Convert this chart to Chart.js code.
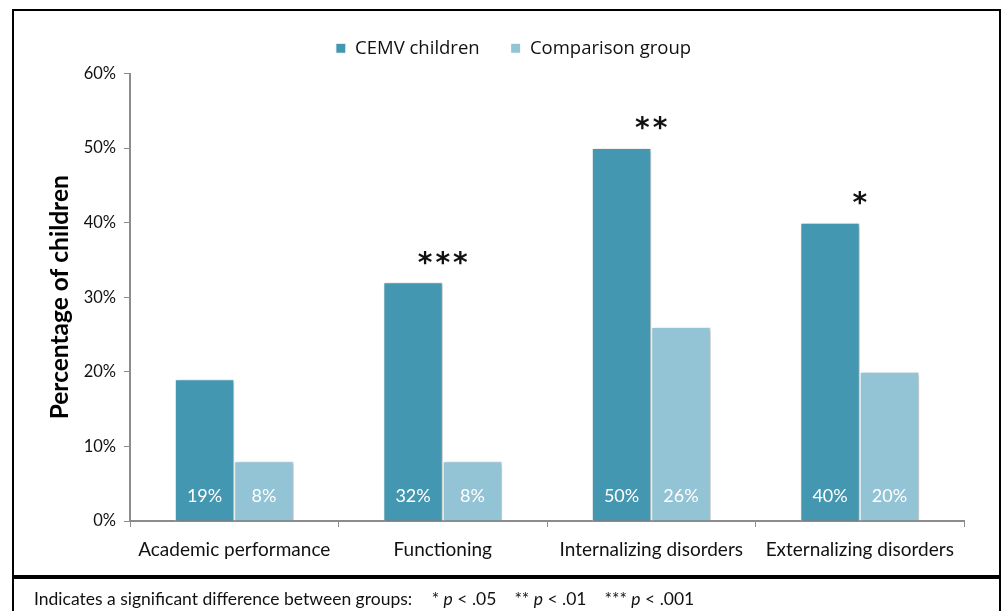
<!DOCTYPE html>
<html>
<head>
<meta charset="utf-8">
<script src="https://cdn.jsdelivr.net/npm/chart.js@4/dist/chart.umd.min.js"></script>
<style>
  html, body { margin: 0; padding: 0; background: #fff; }
  #wrap { position: relative; width: 1005px; height: 611px; overflow: hidden; }
  #chart { position: absolute; left: 0; top: 0; }
  .box { position: absolute; border: 2px solid #000; pointer-events: none; }
  #note {
    position: absolute; left: 34px; top: 588px;
    font-family: Lato, sans-serif; font-size: 17.5px; color: #111;
  }
  #note span { margin-left: 18px; }
  #note span:first-child { margin-left: 15px; }
</style>
</head>
<body>
<div id="wrap">
  <canvas id="chart" width="1005" height="611"></canvas>
  <div class="box" style="left:12px; top:9px; width:985px; height:566px;"></div>
  <div class="box" style="left:12px; top:575px; width:985px; height:60px;"></div>
  <div id="note">Indicates a significant difference between groups: <span>* <i>p</i> &lt; .05</span><span>** <i>p</i> &lt; .01</span><span>*** <i>p</i> &lt; .001</span></div>
</div>
<script>
// Datos del gráfico
const categories = ['Academic performance', 'Functioning', 'Internalizing disorders', 'Externalizing disorders'];
const cemvValues = [19, 32, 50, 40];
const comparisonValues = [8, 8, 26, 20];
const significance = ['', '***', '**', '*'];
const yTicks = [0, 10, 20, 30, 40, 50, 60];

const darkColor = '#4397B0';
const lightColor = '#93C4D5';
const axisColor = '#8C8C8C';

// Sombra suave detrás de las barras
const barShadow = {
    id: 'barShadow',
    beforeDatasetsDraw(chart) {
        const ctx = chart.ctx;
        ctx.save();
        ctx.shadowColor = 'rgba(0, 0, 0, 0.28)';
        ctx.shadowBlur = 4;
        ctx.shadowOffsetX = 2;
        ctx.shadowOffsetY = 1;
    },
    afterDatasetsDraw(chart) {
        chart.ctx.restore();
    }
};

// Etiquetas de valores y asteriscos
const barLabels = {
    id: 'barLabels',
    afterDatasetsDraw(chart) {
        const ctx = chart.ctx;
        const y = chart.scales.y;
        const x = chart.scales.x;
        ctx.save();
        ctx.font = '18px Lato, sans-serif';
        ctx.fillStyle = '#fff';
        ctx.textAlign = 'center';
        ctx.textBaseline = 'middle';
        chart.data.datasets.forEach((ds, i) => {
            chart.getDatasetMeta(i).data.forEach((bar, j) => {
                ctx.fillText(ds.data[j] + '%', bar.x, y.getPixelForValue(0) - 25);
            });
        });
        ctx.font = 'bold 28px "DejaVu Sans", sans-serif';
        ctx.fillStyle = '#111';
        ctx.letterSpacing = '3px';
        significance.forEach((s, j) => {
            if (!s) return;
            ctx.fillText(s, x.getPixelForValue(j) + 1.5, y.getPixelForValue(cemvValues[j]) - 18);
        });
        ctx.restore();
    }
};

// Ajustar la posición de la leyenda
const legendShift = {
    id: 'legendShift',
    afterLayout(chart) {
        chart.legend.left += 25;
        chart.legend.right += 25;
        chart.legend.top -= 6;
        chart.legend.bottom -= 6;
    }
};

const ctx = document.getElementById('chart').getContext('2d');
new Chart(ctx, {
    type: 'bar',
    data: {
        labels: categories,
        datasets: [{
            label: 'CEMV children',
            data: cemvValues,
            backgroundColor: darkColor,
            borderColor: '#fff',
            borderWidth: 1
        }, {
            label: 'Comparison group',
            data: comparisonValues,
            backgroundColor: lightColor,
            borderColor: '#fff',
            borderWidth: 1
        }]
    },
    options: {
        responsive: false,
        animation: false,
        devicePixelRatio: 1,
        layout: { padding: { left: 13, right: 41, top: 14, bottom: 0 } },
        datasets: { bar: { categoryPercentage: 0.57, barPercentage: 1.0 } },
        plugins: {
            legend: {
                position: 'top',
                labels: {
                    boxWidth: 10,
                    boxHeight: 10,
                    padding: 31,
                    color: '#111',
                    font: { family: '"Open Sans", sans-serif', size: 18.5 }
                }
            },
            tooltip: { enabled: false }
        },
        scales: {
            x: {
                grid: { drawOnChartArea: false, offset: true, tickLength: 6, color: axisColor },
                border: { color: axisColor, width: 2 },
                ticks: { color: '#111', padding: 11, font: { family: 'Lato, sans-serif', size: 19 } },
                afterFit(scale) { scale.height = 90; }
            },
            y: {
                min: 0,
                max: 60,
                afterBuildTicks(scale) { scale.ticks = yTicks.map(v => ({ value: v })); },
                grid: { drawOnChartArea: false, tickLength: 6, color: axisColor },
                border: { color: axisColor, width: 2 },
                ticks: {
                    color: '#111',
                    padding: 8,
                    font: { family: 'Lato, sans-serif', size: 16.5 },
                    callback: v => v + '%'
                },
                title: {
                    display: true,
                    text: 'Percentage of children',
                    color: '#000',
                    padding: { top: 32, bottom: 0 },
                    font: { family: 'Lato, sans-serif', size: 24.5, weight: 'bold' }
                },
                afterFit(scale) { scale.width = 117; }
            }
        }
    },
    plugins: [barShadow, barLabels, legendShift]
});
</script>
</body>
</html>
